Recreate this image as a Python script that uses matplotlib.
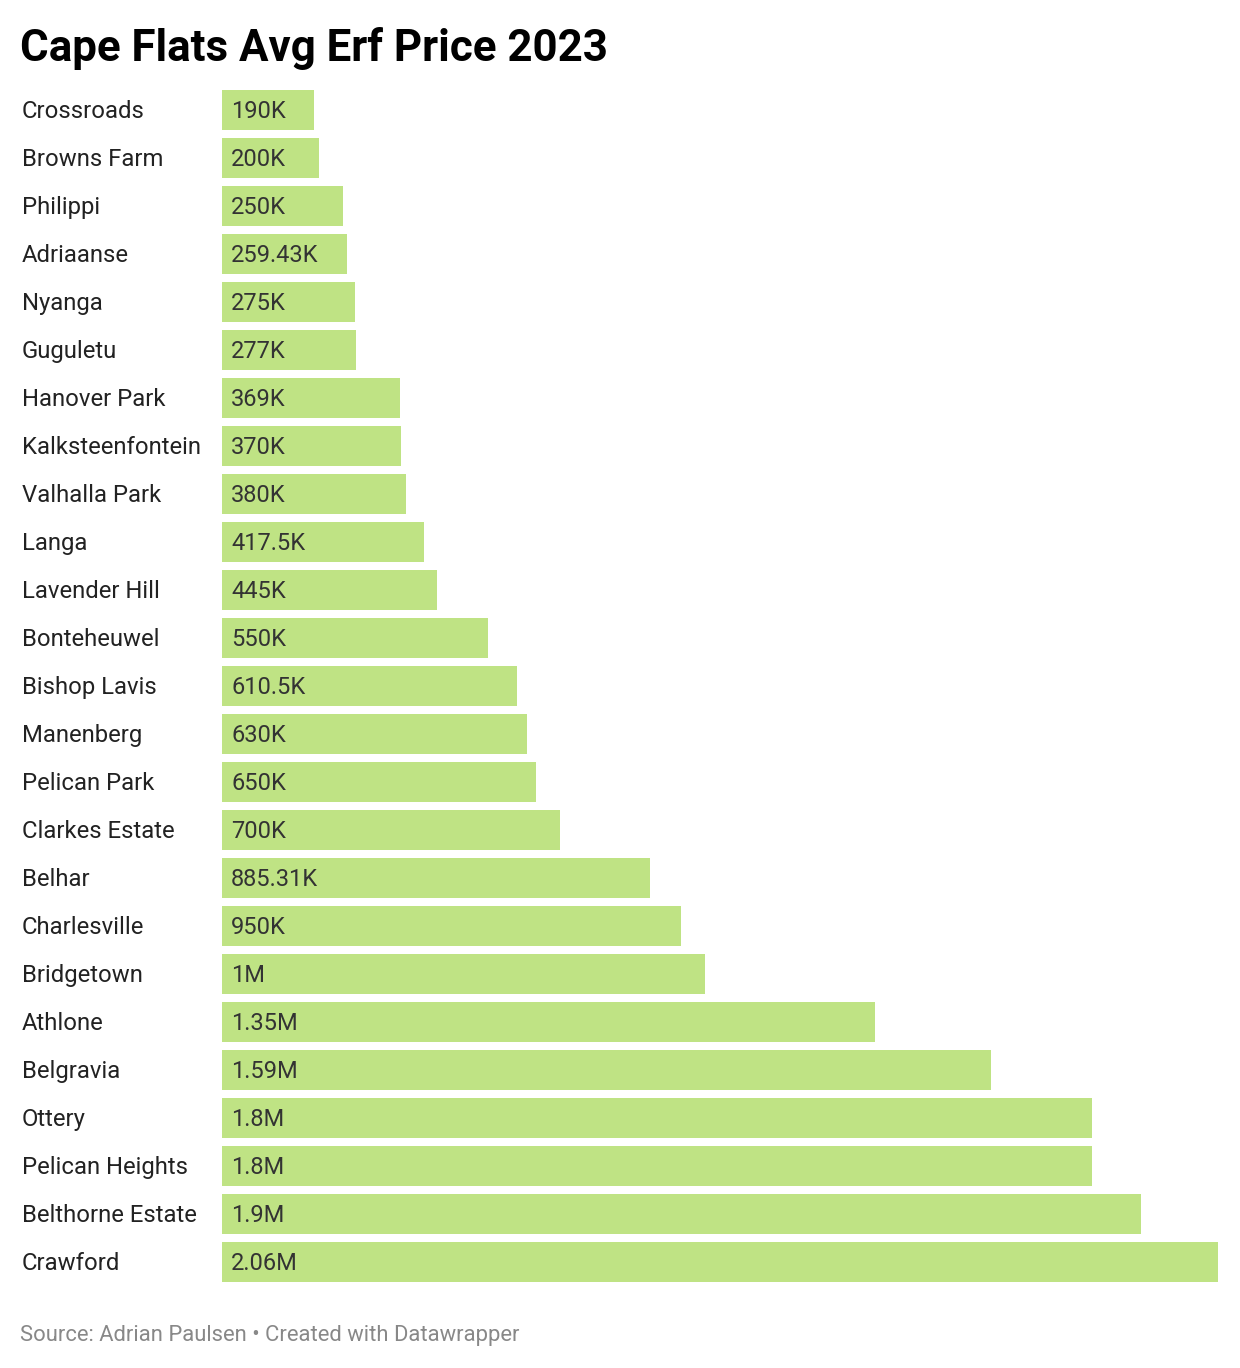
import matplotlib.pyplot as plt

plt.rcParams['font.family'] = ['Roboto', 'DejaVu Sans']

suburbs = ['Crossroads', 'Browns Farm', 'Philippi', 'Adriaanse', 'Nyanga', 'Guguletu',
           'Hanover Park', 'Kalksteenfontein', 'Valhalla Park', 'Langa', 'Lavender Hill',
           'Bonteheuwel', 'Bishop Lavis', 'Manenberg', 'Pelican Park', 'Clarkes Estate',
           'Belhar', 'Charlesville', 'Bridgetown', 'Athlone', 'Belgravia', 'Ottery',
           'Pelican Heights', 'Belthorne Estate', 'Crawford']
prices = [190000, 200000, 250000, 259430, 275000, 277000, 369000, 370000, 380000,
          417500, 445000, 550000, 610500, 630000, 650000, 700000, 885310, 950000,
          1000000, 1350000, 1590000, 1800000, 1800000, 1900000, 2060000]
value_labels = ['190K', '200K', '250K', '259.43K', '275K', '277K', '369K', '370K', '380K',
                '417.5K', '445K', '550K', '610.5K', '630K', '650K', '700K', '885.31K',
                '950K', '1M', '1.35M', '1.59M', '1.8M', '1.8M', '1.9M', '2.06M']

W, H = 1240, 1368
fig = plt.figure(figsize=(W / 100, H / 100), dpi=100)
# axes placed in pixel coordinates: x 222..1218, y 86..1286
ax = fig.add_axes([222 / W, 1 - 1286 / H, (1218 - 222) / W, (1286 - 86) / H])

y = list(range(len(suburbs)))
ax.barh(y, prices, height=40 / 48, color='#bfe384', linewidth=0)
ax.set_xlim(0, max(prices))
ax.set_ylim(len(suburbs) - 0.5, -0.5)
ax.axis('off')

# baseline-aligned so descenders don't shift the labels
for i, (name, lab) in enumerate(zip(suburbs, value_labels)):
    ax.annotate(lab, xy=(0, i), xytext=(9, -8), textcoords='offset pixels',
                va='baseline', ha='left', fontsize=17, color='#333333')
    ax.annotate(name, xy=(0, i), xytext=(-200, -8), textcoords='offset pixels',
                va='baseline', ha='left', fontsize=17.2, color='#222222')

fig.text(20 / W, 1 - 48 / H, 'Cape Flats Avg Erf Price 2023', fontsize=31.6, fontweight='bold',
         color='#000000', va='center', ha='left')
fig.text(20 / W, 1 - 1336 / H, 'Source: Adrian Paulsen \u2022 Created with Datawrapper',
         fontsize=15.8, color='#888888', va='center', ha='left')

fig.savefig('out.png', dpi=100, facecolor='white')
